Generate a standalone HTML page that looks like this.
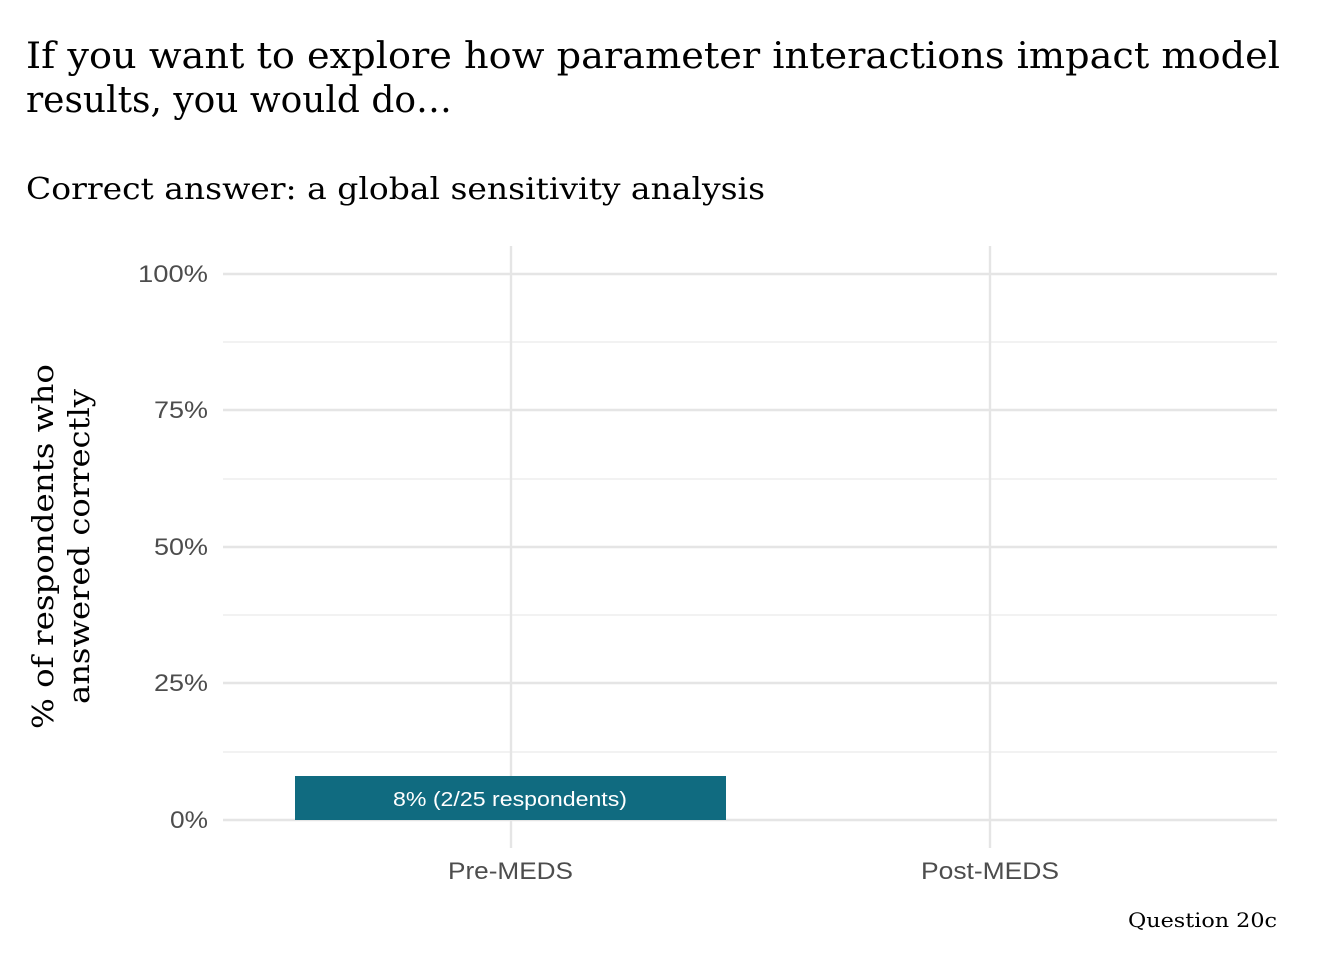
<!DOCTYPE html>
<html><head><meta charset="utf-8"><style>
body{margin:0;background:#fff;}
svg{display:block}
</style></head><body>
<svg width="1344" height="960" xmlns="http://www.w3.org/2000/svg">
<rect width="1344" height="960" fill="#fff"/>
<g font-family="'DejaVu Serif','Liberation Serif',serif" fill="#000">
<text x="26" y="68" font-size="36" textLength="1254" lengthAdjust="spacingAndGlyphs">If you want to explore how parameter interactions impact model</text>
<text x="26" y="112" font-size="36" textLength="426" lengthAdjust="spacingAndGlyphs">results, you would do…</text>
<text x="26" y="199" font-size="30" textLength="739" lengthAdjust="spacingAndGlyphs">Correct answer: a global sensitivity analysis</text>
<text x="1128" y="927" font-size="20" textLength="149" lengthAdjust="spacingAndGlyphs">Question 20c</text>
<g transform="translate(53,547) rotate(-90)"><text x="-182" y="0" font-size="29" textLength="365" lengthAdjust="spacingAndGlyphs">% of respondents who</text></g>
<g transform="translate(89,547) rotate(-90)"><text x="-157" y="0" font-size="29" textLength="315" lengthAdjust="spacingAndGlyphs">answered correctly</text></g>
</g>
<g stroke="#ebebeb" stroke-width="1.2">
<line x1="223" x2="1277" y1="342" y2="342"/><line x1="223" x2="1277" y1="479" y2="479"/>
<line x1="223" x2="1277" y1="615" y2="615"/><line x1="223" x2="1277" y1="752" y2="752"/>
</g>
<g stroke="#e5e5e5" stroke-width="2.4">
<line x1="223" x2="1277" y1="274" y2="274"/><line x1="223" x2="1277" y1="410" y2="410"/>
<line x1="223" x2="1277" y1="547" y2="547"/><line x1="223" x2="1277" y1="683" y2="683"/>
<line x1="223" x2="1277" y1="820" y2="820"/>
<line x1="511" x2="511" y1="246" y2="848"/><line x1="990" x2="990" y1="246" y2="848"/>
</g>
<rect x="295" y="776" width="431" height="44" fill="#106b80"/>
<g font-family="'Liberation Sans',sans-serif">
<text x="393" y="806" font-size="20" fill="#fff" textLength="234" lengthAdjust="spacingAndGlyphs">8% (2/25 respondents)</text>
<g font-size="24" fill="#4d4d4d">
<text x="138" y="282" textLength="70" lengthAdjust="spacingAndGlyphs">100%</text>
<text x="154" y="418" textLength="54" lengthAdjust="spacingAndGlyphs">75%</text>
<text x="154" y="555" textLength="54" lengthAdjust="spacingAndGlyphs">50%</text>
<text x="154" y="691" textLength="54" lengthAdjust="spacingAndGlyphs">25%</text>
<text x="170" y="828" textLength="38" lengthAdjust="spacingAndGlyphs">0%</text>
</g>
<g font-size="24" fill="#4d4d4d">
<text x="448" y="879" textLength="125" lengthAdjust="spacingAndGlyphs">Pre-MEDS</text><text x="921" y="879" textLength="138" lengthAdjust="spacingAndGlyphs">Post-MEDS</text>
</g>
</g>
</svg>
</body></html>
